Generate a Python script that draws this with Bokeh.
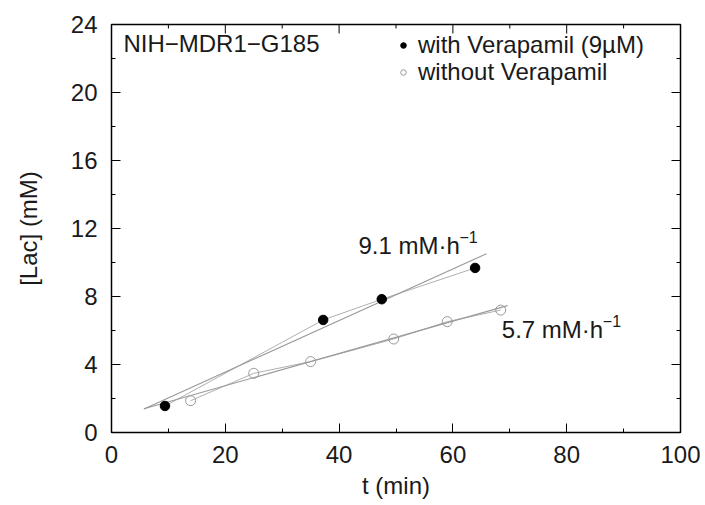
import math
from bokeh.plotting import figure
from bokeh.models import FixedTicker, Label, Legend, LegendItem, Range1d
from bokeh.embed import file_html
from bokeh.resources import INLINE

# ---- data ----
t_with = [9.4, 37.2, 47.5, 63.9]
lac_with = [1.56, 6.62, 7.84, 9.68]
t_without = [13.9, 25.0, 35.0, 49.6, 59.0, 68.4]
lac_without = [1.87, 3.48, 4.17, 5.50, 6.52, 7.20]

rate_with = 9.1      # mM/h
rate_without = 5.7   # mM/h
icpt_with = 0.52
icpt_without = 0.85
fit_t_with = [5.7, 65.9]
fit_t_without = [5.7, 69.6]

x_major = [0, 20, 40, 60, 80, 100]
x_minor = [10, 30, 50, 70, 90]
y_major = [0, 4, 8, 12, 16, 20, 24]
y_minor = [2, 6, 10, 14, 18, 22]

label_with = "with Verapamil (9\u00b5M)"
label_without = "without Verapamil"
title_text = "NIH\u2212MDR1\u2212G185"
ann_with = "9.1 mM\u00b7h"
ann_without = "5.7 mM\u00b7h"
ann_sup = "\u22121"
ann_with_pos = (43.4, 10.98)
ann_without_pos = (68.6, 6.03)
title_pos = (2.1, 22.9)

FONT = "Liberation Sans"
FS = "24px"
TXT = "#1a1a1a"

fit_lac_with = [icpt_with + rate_with / 60.0 * t for t in fit_t_with]
fit_lac_without = [icpt_without + rate_without / 60.0 * t for t in fit_t_without]

p = figure(width=700, height=503, x_range=Range1d(0, 100), y_range=Range1d(0, 24),
           output_backend="svg", toolbar_location=None,
           min_border_left=111, min_border_right=20, min_border_top=24, min_border_bottom=71)
p.xgrid.visible = False
p.ygrid.visible = False
p.outline_line_color = "black"
p.outline_line_width = 1.5
p.background_fill_color = "white"
p.border_fill_color = "white"

def style_axis(ax, ticker):
    ax.ticker = ticker
    ax.axis_line_color = None
    ax.major_tick_in = 9
    ax.major_tick_out = 0
    ax.minor_tick_in = 4
    ax.minor_tick_out = 0
    ax.major_tick_line_color = "black"
    ax.minor_tick_line_color = "black"
    ax.major_tick_line_width = 1
    ax.minor_tick_line_width = 1
    ax.major_label_text_font = FONT
    ax.major_label_text_font_size = FS
    ax.major_label_text_color = TXT
    ax.axis_label_text_font = FONT
    ax.axis_label_text_font_size = FS
    ax.axis_label_text_font_style = "normal"
    ax.axis_label_text_color = TXT

style_axis(p.xaxis[0], FixedTicker(ticks=x_major, minor_ticks=x_minor))
style_axis(p.yaxis[0], FixedTicker(ticks=y_major, minor_ticks=y_minor))
p.xaxis[0].axis_label = "t (min)"
p.yaxis[0].axis_label = "[Lac] (mM)"
p.xaxis[0].major_label_standoff = 13
p.yaxis[0].major_label_standoff = 14
p.xaxis[0].axis_label_standoff = 6
p.yaxis[0].axis_label_standoff = 26

# mirrored inward ticks on top and right (clipped to the frame, so half shows)
ytop = p.y_range.end
xright = p.x_range.end
p.scatter(x_major, [ytop] * len(x_major), marker="dash", angle=math.pi / 2, size=18,
          line_color="black", line_width=1)
p.scatter(x_minor, [ytop] * len(x_minor), marker="dash", angle=math.pi / 2, size=8,
          line_color="black", line_width=1)
p.scatter([xright] * len(y_major), y_major, marker="dash", size=18,
          line_color="black", line_width=1)
p.scatter([xright] * len(y_minor), y_minor, marker="dash", size=8,
          line_color="black", line_width=1)

# connecting lines
p.line(t_with, lac_with, line_color="#b0b0b0", line_width=1)
p.line(t_without, lac_without, line_color="#b0b0b0", line_width=1)
# fit lines
p.line(fit_t_with, fit_lac_with, line_color="#999999", line_width=1.1)
p.line(fit_t_without, fit_lac_without, line_color="#999999", line_width=1.1)

r_with = p.scatter(t_with, lac_with, marker="circle", size=9.5, fill_color="black", line_color="black")
r_without = p.scatter(t_without, lac_without, marker="circle", size=10, fill_color=None,
                      line_color="#999999", line_width=1)

def make_legend(label, rend, loc):
    lg = Legend(items=[LegendItem(label=label, renderers=[rend])], location=loc)
    lg.background_fill_alpha = 0
    lg.border_line_color = None
    lg.label_text_font = FONT
    lg.label_text_font_size = FS
    lg.label_text_color = TXT
    lg.glyph_width = 14
    lg.glyph_height = 14
    lg.label_standoff = 8
    lg.spacing = 0
    lg.padding = 0
    lg.margin = 0
    lg.label_height = 20
    return lg

p.add_layout(make_legend(label_with, r_with, (285, 373)))
p.add_layout(make_legend(label_without, r_without, (285, 346)))

p.add_layout(Label(x=title_pos[0], y=title_pos[1], text=title_text, text_font=FONT,
                   text_font_size=FS, text_color=TXT, text_baseline="middle"))
for txt, pos in [(ann_with, ann_with_pos), (ann_without, ann_without_pos)]:
    p.add_layout(Label(x=pos[0], y=pos[1], text=txt, text_font=FONT, text_font_size=FS,
                       text_color=TXT, text_baseline="alphabetic"))
    p.add_layout(Label(x=pos[0], y=pos[1], text=ann_sup, text_font=FONT, text_font_size="16px",
                       text_color=TXT, text_baseline="alphabetic", x_offset=101, y_offset=9))

open("out.html", "w").write(file_html(p, INLINE))
